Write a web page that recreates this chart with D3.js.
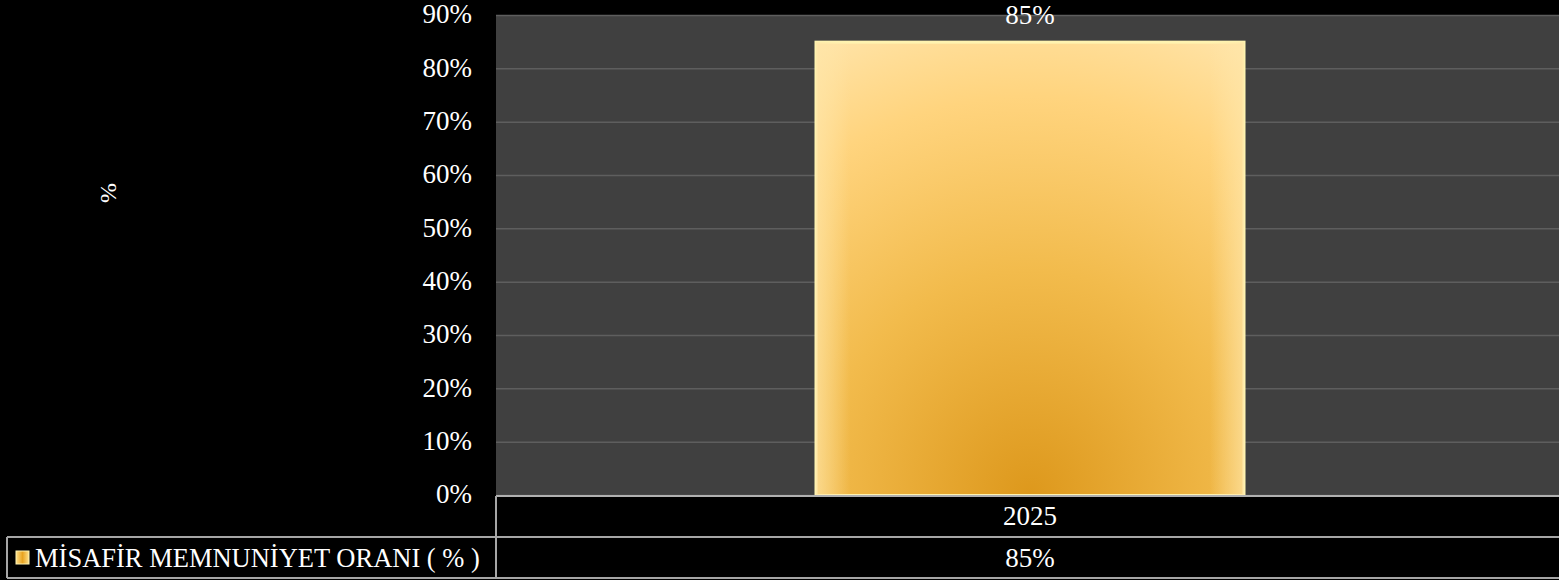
<!DOCTYPE html>
<html><head><meta charset="utf-8">
<script src="https://cdn.jsdelivr.net/npm/d3@7"></script>
<style>
html,body{margin:0;padding:0;background:#000;}
text{font-family:"Liberation Serif","DejaVu Serif",serif;font-variant-numeric:oldstyle-nums;fill:#fff;}
</style></head>
<body><svg id="c" width="1559" height="580"></svg>
<script>
const categories = ["2025"];
const seriesName = "MİSAFİR MEMNUNİYET ORANI ( % )";
const values = [85];
const valueLabels = ["85%"];
const yTicks = [0,10,20,30,40,50,60,70,80,90];
const yTitle = "%";

const W=1559,H=580;
const m={left:496,top:15};
const svg=d3.select("#c");
svg.append("rect").attr("width",W).attr("height",H).attr("fill","#000");

const defs=svg.append("defs");
const rg=defs.append("radialGradient").attr("id","barG").attr("cx","0.5").attr("cy","1").attr("r","1.1").attr("fx","0.5").attr("fy","1");
rg.append("stop").attr("offset","0%").attr("stop-color","#dd981c");
rg.append("stop").attr("offset","45%").attr("stop-color","#f2bb4c");
rg.append("stop").attr("offset","80%").attr("stop-color","#ffd47e");
rg.append("stop").attr("offset","100%").attr("stop-color","#ffe3a6");
const eg=defs.append("linearGradient").attr("id","edgeG").attr("x1","0").attr("x2","1");
eg.append("stop").attr("offset","0%").attr("stop-color","#ffe6a8").attr("stop-opacity",0.7);
eg.append("stop").attr("offset","8%").attr("stop-color","#ffe6a8").attr("stop-opacity",0);
eg.append("stop").attr("offset","92%").attr("stop-color","#ffe6a8").attr("stop-opacity",0);
eg.append("stop").attr("offset","100%").attr("stop-color","#ffe6a8").attr("stop-opacity",0.7);
const kg=defs.append("linearGradient").attr("id","keyG").attr("x1","0").attr("x2","1");
kg.append("stop").attr("offset","0%").attr("stop-color","#ffe08a");
kg.append("stop").attr("offset","50%").attr("stop-color","#e8a320");
kg.append("stop").attr("offset","100%").attr("stop-color","#ffe08a");

// plot area extends slightly past the right edge of the picture
const x=d3.scaleBand().domain(categories).range([m.left,W+5]).paddingInner(0).paddingOuter(0);
const y=d3.scaleLinear().domain([0,90]).range([495.5,15.5]);

svg.append("rect").attr("x",m.left).attr("y",y(90)).attr("width",W-m.left).attr("height",y(0)-y(90)).attr("fill","#404040");
svg.append("g").selectAll("line").data(yTicks).join("line")
 .attr("x1",m.left).attr("x2",W).attr("y1",d=>y(d)).attr("y2",d=>y(d))
 .attr("stroke","#5e5e5e").attr("stroke-width",1.5);

const yAxis=d3.axisLeft(y).tickValues(yTicks).tickFormat(d=>d+"%").tickSize(0).tickPadding(24);
const ga=svg.append("g").attr("transform",`translate(${m.left},0)`).call(yAxis);
ga.select(".domain").remove();
ga.selectAll("text").attr("font-size",27).attr("fill","#fff").attr("font-family",null).attr("dy","0.27em");

svg.append("text").attr("transform","translate(108,193) rotate(-90)").attr("text-anchor","middle").attr("dy","0.35em").attr("font-size",24).text(yTitle);

const bw=428;
const bars=svg.append("g").selectAll("g").data(values).join("g");
bars.append("rect").attr("x",(d,i)=>x(categories[i])+x.bandwidth()/2-bw/2).attr("y",d=>y(d)).attr("width",bw).attr("height",d=>y(0)-y(d))
 .attr("fill","url(#barG)").attr("stroke","#fff3b0").attr("stroke-width",3);
bars.append("rect").attr("x",(d,i)=>x(categories[i])+x.bandwidth()/2-bw/2).attr("y",d=>y(d)).attr("width",bw).attr("height",d=>y(0)-y(d))
 .attr("fill","url(#edgeG)");
bars.append("text").attr("x",(d,i)=>x(categories[i])+x.bandwidth()/2).attr("y",d=>y(d)-18).attr("text-anchor","middle").attr("font-size",27).text((d,i)=>valueLabels[i]);

const r1=496,r2=537,r3=578;
const tc="#a6a6a6";
const tg=svg.append("g");
tg.append("line").attr("x1",m.left).attr("x2",W).attr("y1",r1).attr("y2",r1).attr("stroke","#b0b0b0").attr("stroke-width",2);
tg.append("line").attr("x1",7).attr("x2",W).attr("y1",r2).attr("y2",r2).attr("stroke",tc).attr("stroke-width",2);
tg.append("line").attr("x1",7).attr("x2",W).attr("y1",r3).attr("y2",r3).attr("stroke",tc).attr("stroke-width",2);
tg.append("line").attr("x1",7).attr("x2",7).attr("y1",r2).attr("y2",r3).attr("stroke",tc).attr("stroke-width",2);
tg.append("line").attr("x1",m.left).attr("x2",m.left).attr("y1",r1).attr("y2",r3).attr("stroke",tc).attr("stroke-width",2);
tg.selectAll("text.cat").data(categories).join("text").attr("class","cat")
 .attr("x",d=>x(d)+x.bandwidth()/2).attr("y",(r1+r2)/2).attr("dy","0.3em").attr("text-anchor","middle").attr("font-size",27).text(d=>d);
tg.selectAll("text.val").data(valueLabels).join("text").attr("class","val")
 .attr("x",(d,i)=>x(categories[i])+x.bandwidth()/2).attr("y",(r2+r3)/2).attr("dy","0.35em").attr("text-anchor","middle").attr("font-size",27).text(d=>d);
tg.append("rect").attr("x",16).attr("y",551).attr("width",13).attr("height",13).attr("fill","url(#keyG)").attr("stroke","#fff3b0").attr("stroke-width",1);
tg.append("text").attr("x",35).attr("y",(r2+r3)/2).attr("dy","0.35em").attr("font-size",26.5).text(seriesName);
</script></body></html>
